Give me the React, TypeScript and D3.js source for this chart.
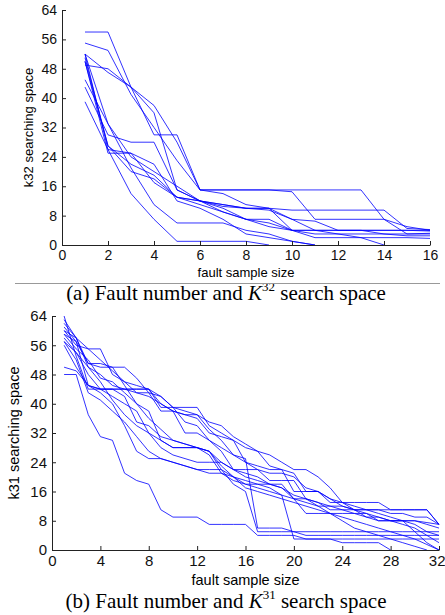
import React, { useEffect, useRef } from "react";
import * as d3 from "d3";

// panel (a): K32 search space per fault sample size (x = 1..n)
const seriesA: number[][] = [
  [58, 58, 43, 30, 30, 15, 15, 15, 15, 15, 15, 15, 15, 7, 5, 4],
  [55, 53, 41, 32, 23, 15, 15, 15, 15, 14.5, 7, 7, 7, 7, 3, 3],
  [52, 47, 43, 38, 28, 15, 14, 11, 10, 9.5, 9.5, 9.5, 9.5, 9.5, 4.5, 4.2],
  [52, 26, 25, 17, 13, 12, 11, 10, 9.5, 7, 4, 4, 4, 4, 4, 3.8],
  [51, 27, 20, 18, 13, 11, 9, 7, 6, 4, 2, 2, 2, 2, 2, 1.8],
  [50, 25, 25, 22, 12, 10, 7, 3, 2, 1, 0],
  [49, 48, 43, 36, 15, 12, 10.5, 10, 10, 7, 6.5, 4, 4, 3, 2.5, 2.5],
  [45, 33, 24, 20, 16, 12, 9, 7, 7, 4, 3, 3, 3, 3, 3, 3.2],
  [43, 30, 28, 28, 15, 12, 10, 7, 5, 4, 4, 3, 2, 0],
  [39, 26, 14, 7, 1, 1, 1, 1, 0],
  [52, 33, 21, 11, 6, 6, 6, 4, 3, 1, 0],
  [50, 27, 22, 19, 13, 12, 11, 10, 10, 4, 4, 4, 4, 4, 4, 4],
];

// panel (b): K31 search space per fault sample size (x = 1..n)
const seriesB: number[][] = [
  [64, 53, 44, 44, 44, 44, 44, 44, 39, 39, 35, 34, 30, 28, 26, 25, 6, 6, 6, 5, 5, 5, 5, 5, 5, 5, 5, 5, 5, 5, 5, 5],
  [62, 58, 50, 48, 45, 44, 43, 42, 40, 38, 37, 36, 32, 31, 30, 28, 27, 23, 22, 21, 16, 16, 13, 13, 13, 13, 13, 11, 11, 11, 11, 7],
  [60, 58, 55, 55, 48, 46, 45, 44, 42, 39, 39, 39, 34, 32, 30, 24, 22, 19, 19, 19, 14, 13, 12, 12, 11, 11, 11, 10, 10, 9, 9, 7],
  [59, 57, 51, 51, 50, 50, 47, 43, 38, 38, 32, 32, 30, 27, 22, 20, 19, 18, 17, 14, 10, 10, 10, 10, 10, 10, 8, 8, 8, 8, 7, 6],
  [58, 54, 50, 46, 41, 37, 34, 32, 30, 28, 28, 28, 27, 23, 20, 18, 17, 16, 15, 3, 3, 3, 3, 3, 3, 3, 3, 3, 3, 3, 3, 3],
  [57, 52, 43, 41, 38, 35, 31, 27, 25, 24, 23, 22, 21, 21, 20, 17, 16, 15, 14, 13, 12, 11, 10, 9, 8, 7, 6, 5, 4, 3, 1.5, 0],
  [56, 50, 45, 43, 40, 34, 27, 25, 25, 24, 23, 22, 22, 22, 20, 19, 18, 17, 15, 14, 13, 12, 12, 11, 10, 9, 9, 8, 8, 7, 5, 4],
  [48, 48, 37, 31, 30, 21, 19, 18, 11, 9, 9, 9, 7, 7, 7, 7, 4, 4, 4, 4, 3, 3, 3, 2, 2, 2, 2, 0],
  [50, 49, 45, 44, 44, 44, 44, 44, 40, 38, 37, 37, 35, 34, 31, 29, 27, 26, 24, 22, 22, 20, 17, 13, 11, 9, 8, 8, 8, 8, 7.5, 7],
  [61, 57, 45, 44, 44, 42, 35, 34, 31, 30, 29, 28, 26, 21, 19, 18, 18, 18, 18, 14, 14, 13, 11, 11, 11, 11, 11, 11, 11, 11, 11, 7],
  [59, 55, 52, 47, 46, 43, 40, 36, 33, 30, 29, 28, 27, 24, 22, 22, 22, 21, 21, 20, 17, 16, 14, 12, 11, 10, 9, 8, 7, 6, 4, 2],
  [63, 58, 51, 50, 50, 45, 40, 38, 30, 28, 28, 28, 27, 22, 18, 16, 5, 5, 5, 5, 4, 4, 4, 4, 4, 4, 4, 4, 4, 4, 4, 4],
  [60, 56, 55, 52, 49, 46, 43, 43, 42, 39, 38, 37, 33, 30, 26, 24, 23, 22, 22, 16, 16, 16, 14, 13, 12, 11, 10, 9, 8, 5, 2, 0],
  [57, 54, 48, 44, 42, 40, 38, 32, 28, 26, 25, 24, 24, 24, 22, 21, 20, 18, 17, 15, 14, 12, 10, 8, 6, 5, 4, 3, 2, 1, 0],
];

const yTicks = [0, 8, 16, 24, 32, 40, 48, 56, 64];
const xTicksA = [0, 2, 4, 6, 8, 10, 12, 14, 16];
const xTicksB = [0, 4, 8, 12, 16, 20, 24, 28, 32];

const App = () => {
  const svgRef = useRef(null);

  useEffect(() => {
    const svg = d3.select(svgRef.current);
    svg.selectAll("*").remove();

    const sans = "'Liberation Sans', Arial, Helvetica, sans-serif";
    const serif = "'Liberation Serif', 'Times New Roman', serif";

    const drawPanel = (opts) => {
      const { data, xMax, xTicks, box, yLabel, yLabelX, tickSize, labelSize, xLabelY, capY, capX, capTag, capSup } = opts;
      const x = d3.scaleLinear().domain([0, xMax]).range([box.left, box.right]);
      const y = d3.scaleLinear().domain([0, 64]).range([box.bottom, box.top]);

      const line = d3
        .line()
        .x((d, i) => x(i + 1))
        .y((d) => y(d));

      const g = svg.append("g");
      g.selectAll("path.series")
        .data(data)
        .enter()
        .append("path")
        .attr("class", "series")
        .attr("fill", "none")
        .attr("stroke", "#0000ff")
        .attr("stroke-opacity", 0.8)
        .attr("stroke-width", 1)
        .attr("d", (d) => line(d));

      const xAxis = d3.axisBottom(x).tickValues(xTicks).tickSizeInner(-4).tickSizeOuter(0).tickPadding(5);
      const yAxis = d3.axisLeft(y).tickValues(yTicks).tickSizeInner(-4).tickSizeOuter(0).tickPadding(5);

      const gx = svg.append("g").attr("transform", `translate(0,${box.bottom})`).call(xAxis);
      const gy = svg.append("g").attr("transform", `translate(${box.left},0)`).call(yAxis);
      [gx, gy].forEach((ax) => {
        ax.attr("font-family", sans).attr("font-size", tickSize);
        ax.selectAll("path, line").attr("stroke", "#222");
        ax.selectAll("text").attr("fill", "#111");
      });

      // last x tick label sits at the page edge: keep it inside the picture
      gx.selectAll(".tick:last-of-type text")
        .filter(() => box.right > 435)
        .attr("text-anchor", "end")
        .attr("x", 445 - box.right);

      svg.append("text")
        .attr("x", (box.left + box.right) / 2)
        .attr("y", xLabelY)
        .attr("text-anchor", "middle")
        .attr("font-family", sans)
        .attr("font-size", labelSize)
        .text("fault sample size");

      svg.append("text")
        .attr("transform", `translate(${yLabelX},${(box.top + box.bottom) / 2}) rotate(-90)`)
        .attr("text-anchor", "middle")
        .attr("dy", "0.35em")
        .attr("font-family", sans)
        .attr("font-size", labelSize)
        .text(yLabel);

      const cap = svg.append("text")
        .attr("x", capX)
        .attr("y", capY)
        .attr("text-anchor", "middle")
        .attr("font-family", serif)
        .attr("font-size", 21)
        .attr("fill", "#000");
      cap.append("tspan").text(`${capTag} Fault number and `);
      cap.append("tspan").attr("font-style", "italic").text("K");
      cap.append("tspan").attr("font-size", 13).attr("dy", -9).text(capSup);
      cap.append("tspan").attr("dy", 9).text(" search space");
    };

    drawPanel({
      data: seriesA,
      xMax: 16,
      xTicks: xTicksA,
      box: { left: 62, right: 430, top: 10, bottom: 245 },
      yLabel: "k32 searching space",
      yLabelX: 28,
      tickSize: 14,
      labelSize: 13,
      xLabelY: 277,
      capX: 226,
      capY: 300,
      capTag: "(a)",
      capSup: "32",
    });

    // separator between the two sub-figures
    svg.append("line")
      .attr("x1", 15).attr("x2", 440)
      .attr("y1", 283.5).attr("y2", 283.5)
      .attr("stroke", "#999").attr("stroke-width", 1);

    drawPanel({
      data: seriesB,
      xMax: 32,
      xTicks: xTicksB,
      box: { left: 52, right: 439, top: 316, bottom: 550 },
      yLabel: "k31 searching space",
      yLabelX: 14,
      tickSize: 15,
      labelSize: 14.5,
      xLabelY: 585,
      capX: 226,
      capY: 608,
      capTag: "(b)",
      capSup: "31",
    });
  }, []);

  return (
    <svg
      ref={svgRef}
      width="445"
      height="615"
      style={{ position: "absolute", left: 0, top: 0, background: "#fff" }}
    ></svg>
  );
};

export default App;
